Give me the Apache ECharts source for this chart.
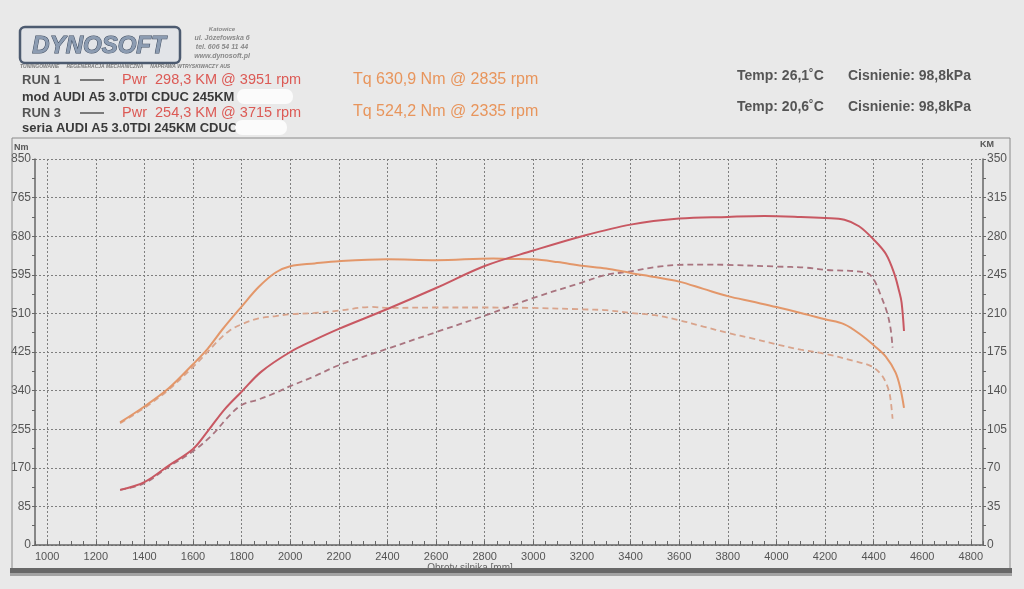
<!DOCTYPE html>
<html>
<head>
<meta charset="utf-8">
<title>Dynosoft - AUDI A5 3.0TDI</title>
<script src="https://cdn.jsdelivr.net/npm/echarts@6/dist/echarts.min.js"></script>
<style>
html, body { margin: 0; padding: 0; background: #e9e9e9; }
#chart { width: 1024px; height: 589px; }
</style>
</head>
<body>
<div id="chart"></div>
<script>
// RUN 1 (mod) - moment [Nm]
var run1TqRpm = [1300, 1400, 1500, 1600, 1660, 1720, 1800, 1870, 1940, 2000, 2100, 2200, 2400, 2600, 2835, 2900, 3000, 3100, 3200, 3300, 3400, 3500, 3600, 3700, 3800, 3900, 4000, 4100, 4200, 4280, 4350, 4400, 4450, 4490, 4510, 4525];
var run1TqNm  = [270, 305, 345, 398, 432, 474, 525, 568, 600, 614, 620, 625, 629, 627, 631, 630, 629, 623, 615, 609, 599, 590, 580, 564, 548, 536, 524, 511, 497, 486, 462, 440, 415, 380, 345, 302];
// RUN 1 (mod) - moc [KM]
var run1PwRpm = [1300, 1400, 1500, 1600, 1660, 1730, 1800, 1880, 2000, 2100, 2200, 2400, 2600, 2800, 3000, 3200, 3400, 3600, 3800, 3951, 4100, 4200, 4280, 4340, 4400, 4450, 4485, 4505, 4515, 4525];
var run1PwKm  = [50, 57, 72, 87, 103, 123, 139, 157, 175, 186, 196, 214, 233, 253, 267, 280, 290.5, 296, 297.5, 298.3, 297.5, 296.5, 295, 289, 277, 264, 246, 230, 220, 194];
// RUN 3 (seria) - moment [Nm]
var run3TqRpm = [1300, 1400, 1500, 1600, 1660, 1700, 1750, 1800, 1870, 1940, 2000, 2100, 2200, 2335, 2400, 2600, 2800, 3000, 3200, 3300, 3400, 3500, 3600, 3700, 3800, 3900, 4000, 4100, 4200, 4320, 4390, 4430, 4450, 4465, 4472, 4478];
var run3TqNm  = [268, 302, 342, 392, 425, 448, 472, 486, 499, 504, 508, 511, 516, 524.2, 522, 523, 523, 522, 519, 517, 511, 506, 495, 481, 467, 455, 442, 430, 421, 405, 394, 376, 358, 335, 310, 278];
// RUN 3 (seria) - moc [KM]
var run3PwRpm = [1300, 1400, 1500, 1600, 1680, 1740, 1800, 1870, 1940, 2000, 2100, 2200, 2400, 2600, 2800, 3000, 3200, 3300, 3400, 3500, 3600, 3715, 3800, 4000, 4120, 4200, 4370, 4400, 4430, 4455, 4470, 4478];
var run3PwKm  = [50, 56, 71, 85, 100, 115, 127, 132, 138, 144, 153, 163, 178, 193, 208, 224, 238, 245, 248, 252, 254, 254.3, 254, 252.5, 251.5, 249.5, 247, 241, 226, 211, 196, 179];

function pairs(xs, ys) {
	return xs.map(function (x, i) { return [x, ys[i]]; });
}

var FONT = '"Liberation Sans", Arial, sans-serif';
var chart = echarts.init(document.getElementById('chart'));

// siatka glowna 950..4850, druga siatka (opisy + linie pionowe) 1000..4800
var gLeft = 35, gRight = 41, gTop = 159, gBottom = 44;
var scale = (1024 - gLeft - gRight) / (4850 - 950);

function txt(x, y, text, font, fill, align) {
	return {
		type: 'text', x: x, y: y, z: 50,
		style: { text: text, font: font, fill: fill, align: align || 'left', verticalAlign: 'middle' }
	};
}

function curve(name, xs, ys, yIdx, color, width, dashed) {
	return {
		name: name, type: 'line', xAxisIndex: 0, yAxisIndex: yIdx,
		data: pairs(xs, ys), showSymbol: false, smooth: 0.35,
		lineStyle: { color: color, width: width, type: dashed ? [6, 4] : 'solid' }
	};
}

var option = {
	backgroundColor: '#e9e9e9',
	animation: false,
	grid: [
		{ left: gLeft, right: gRight, top: gTop, bottom: gBottom },
		{ left: gLeft + 50 * scale, right: gRight + 50 * scale, top: gTop, bottom: gBottom }
	],
	xAxis: [{
		gridIndex: 0, type: 'value', min: 950, max: 4850, interval: 50,
		axisLine: { show: true, onZero: false, lineStyle: { color: '#666', width: 1.5 } },
		axisTick: { show: true, inside: true, length: 4, lineStyle: { color: '#666' } },
		axisLabel: { show: false },
		splitLine: { show: false }
	}, {
		gridIndex: 1, type: 'value', min: 1000, max: 4800, interval: 200,
		axisLine: { show: false },
		axisTick: { show: false },
		axisLabel: { color: '#555', fontSize: 11, fontFamily: FONT, margin: 6, showMinLabel: true, showMaxLabel: true,
			formatter: function (v) { return String(v); } },
		splitLine: { show: true, lineStyle: { color: '#7f7f7f', type: [2, 2], width: 1 } }
	}],
	yAxis: [{
		gridIndex: 0, type: 'value', min: 0, max: 850, interval: 85, position: 'left',
		axisLine: { show: true, lineStyle: { color: '#666', width: 1.5 } },
		axisTick: { show: true, length: 3, lineStyle: { color: '#666' } },
		minorTick: { show: true, splitNumber: 2, length: 3, lineStyle: { color: '#666' } },
		axisLabel: { color: '#555', fontSize: 12, fontFamily: FONT, margin: 4 },
		splitLine: { show: true, lineStyle: { color: '#7f7f7f', type: [2, 2], width: 1 } }
	}, {
		gridIndex: 0, type: 'value', min: 0, max: 350, interval: 35, position: 'right',
		axisLine: { show: true, lineStyle: { color: '#666', width: 1.5 } },
		axisTick: { show: true, length: 3, lineStyle: { color: '#666' } },
		minorTick: { show: true, splitNumber: 2, length: 3, lineStyle: { color: '#666' } },
		axisLabel: { color: '#555', fontSize: 12, fontFamily: FONT, margin: 4 },
		splitLine: { show: false }
	}, {
		gridIndex: 1, type: 'value', min: 0, max: 850, show: false
	}],
	series: [
		curve('RUN 3 Tq', run3TqRpm, run3TqNm, 0, '#d9a48c', 1.8, true),
		curve('RUN 3 Pwr', run3PwRpm, run3PwKm, 1, '#a9747f', 1.8, true),
		curve('RUN 1 Tq', run1TqRpm, run1TqNm, 0, '#e3976a', 2, false),
		curve('RUN 1 Pwr', run1PwRpm, run1PwKm, 1, '#c85862', 2, false)
	],
	graphic: [
		// ramka wykresu
		{ type: 'rect', z: 1, shape: { x: 12, y: 138, width: 998, height: 431 },
		  style: { fill: 'none', stroke: '#8a8a8a', lineWidth: 1 } },
		// logo
		{ type: 'rect', z: 40, shape: { x: 20, y: 27, width: 160, height: 36, r: 5 },
		  style: { fill: '#e2e4e8', stroke: '#4d5b70', lineWidth: 2.5 } },
		{ type: 'text', x: 99, y: 46, z: 41,
		  style: { text: 'DYNOSOFT', font: 'italic bold 24px ' + FONT, fill: '#8c9cb2', stroke: '#3d4b60', lineWidth: 1, align: 'center', verticalAlign: 'middle' } },
		txt(222, 29, 'Katowice', 'italic bold 6px ' + FONT, '#8a8a8a', 'center'),
		txt(222, 38, 'ul. Józefowska 6', 'italic bold 7px ' + FONT, '#8a8a8a', 'center'),
		txt(222, 47, 'tel. 606 54 11 44', 'italic bold 7px ' + FONT, '#8a8a8a', 'center'),
		txt(222, 56, 'www.dynosoft.pl', 'italic bold 7px ' + FONT, '#8a8a8a', 'center'),
		txt(20, 67, 'TUNINGOWANIE     REGENERACJA MECHANICZNA     NAPRAWA WTRYSKIWACZY AUS', 'italic bold 5px ' + FONT, '#7a7a7a'),
		// opisy przejazdow
		txt(22, 80, 'RUN 1', 'bold 13px ' + FONT, '#555'),
		{ type: 'line', z: 50, shape: { x1: 80, y1: 80, x2: 104, y2: 80 }, style: { stroke: '#555', lineWidth: 1.5 } },
		txt(122, 80, 'Pwr  298,3 KM @ 3951 rpm', '14.5px ' + FONT, '#dc5a55'),
		txt(353, 80, 'Tq 630,9 Nm @ 2835 rpm', '16px ' + FONT, '#e8955c'),
		txt(22, 97, 'mod AUDI A5 3.0TDI CDUC 245KM', 'bold 13px ' + FONT, '#3a3a3a'),
		txt(22, 113, 'RUN 3', 'bold 13px ' + FONT, '#555'),
		{ type: 'line', z: 50, shape: { x1: 80, y1: 113, x2: 104, y2: 113 }, style: { stroke: '#555', lineWidth: 1.5 } },
		txt(122, 113, 'Pwr  254,3 KM @ 3715 rpm', '14.5px ' + FONT, '#dc5a55'),
		txt(353, 112, 'Tq 524,2 Nm @ 2335 rpm', '16px ' + FONT, '#e8955c'),
		txt(22, 128, 'seria AUDI A5 3.0TDI 245KM CDUC', 'bold 13px ' + FONT, '#3a3a3a'),
		// zamazane pola
		{ type: 'rect', z: 60, shape: { x: 237, y: 89, width: 56, height: 15, r: 7 }, style: { fill: '#fbfbfb' } },
		{ type: 'rect', z: 60, shape: { x: 235, y: 120, width: 52, height: 15, r: 7 }, style: { fill: '#fbfbfb' } },
		// warunki
		txt(737, 76, 'Temp: 26,1˚C', 'bold 14px ' + FONT, '#555'),
		txt(848, 76, 'Cisnienie: 98,8kPa', 'bold 14px ' + FONT, '#555'),
		txt(737, 107, 'Temp: 20,6˚C', 'bold 14px ' + FONT, '#555'),
		txt(848, 107, 'Cisnienie: 98,8kPa', 'bold 14px ' + FONT, '#555'),
		// jednostki osi
		txt(14, 148, 'Nm', 'bold 9px ' + FONT, '#555'),
		txt(980, 145, 'KM', 'bold 9px ' + FONT, '#555'),
		{ type: 'text', x: 470, y: 563, z: 50,
		  style: { text: 'Obroty silnika [mm]', font: '10px ' + FONT, fill: '#666', align: 'center', verticalAlign: 'top' } },
		// dolna krawedz kartki
		{ type: 'rect', z: 70, shape: { x: 10, y: 568, width: 1002, height: 5 }, style: { fill: '#686868' } },
		{ type: 'rect', z: 70, shape: { x: 10, y: 573, width: 1002, height: 3 }, style: { fill: '#a3a3a3' } }
	]
};

chart.setOption(option);
</script>
</body>
</html>
